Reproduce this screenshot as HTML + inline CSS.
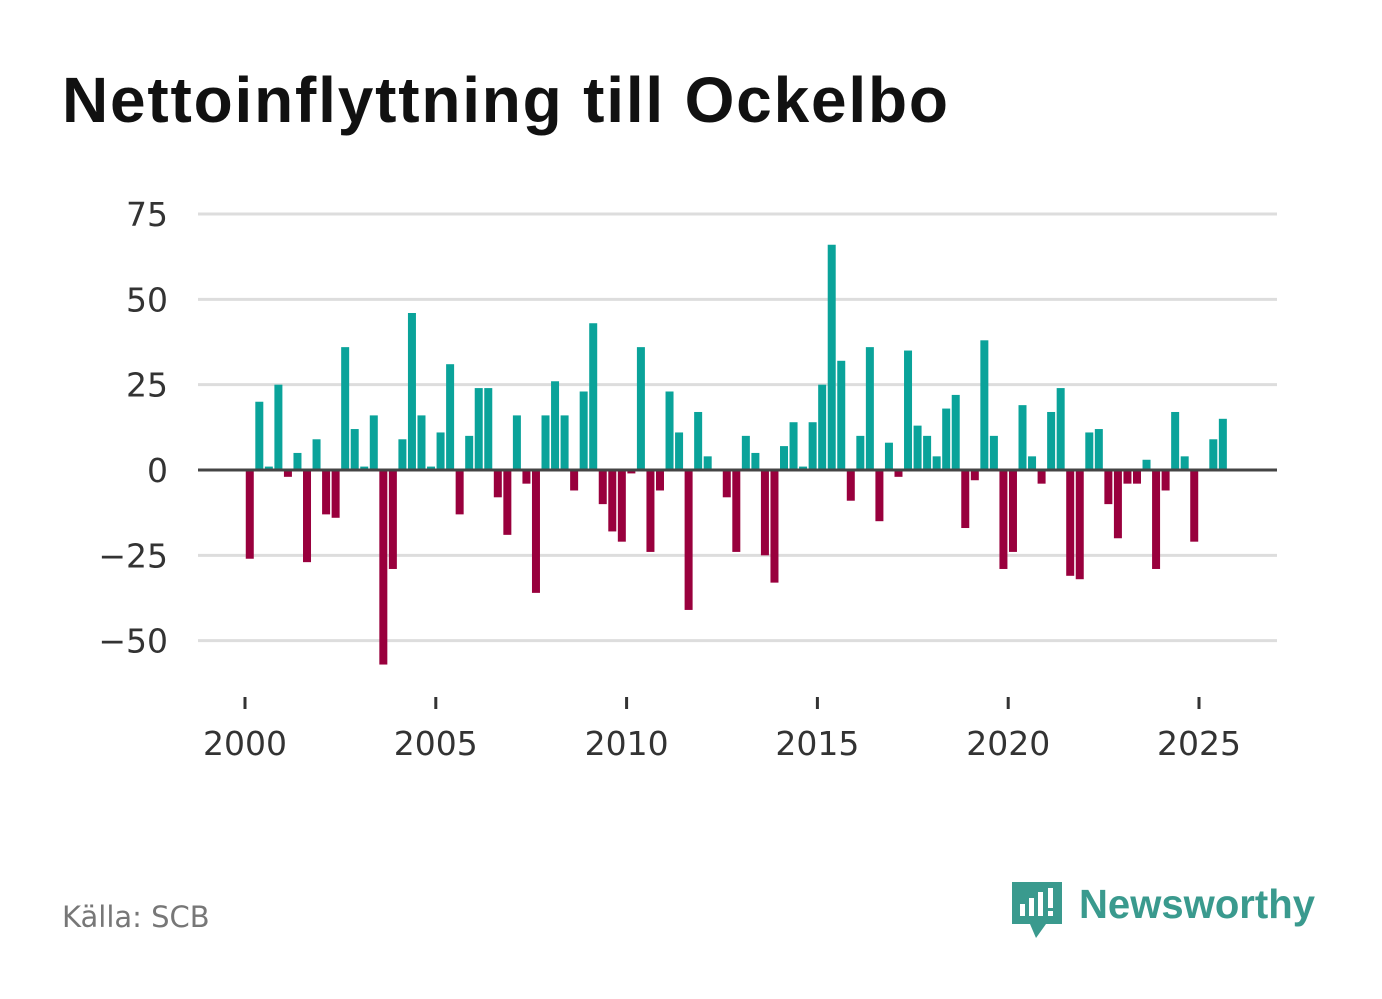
<!DOCTYPE html>
<html><head><meta charset="utf-8"><style>
body{margin:0;background:#fff;width:1382px;height:999px;overflow:hidden;font-family:"DejaVu Sans","Liberation Sans",sans-serif}
#title{position:absolute;left:62px;top:68px;font-size:64px;line-height:1;font-weight:bold;color:#111;letter-spacing:1.8px;font-family:"Liberation Sans",sans-serif;white-space:nowrap}
#src{position:absolute;left:62px;top:900px;font-size:29px;color:#777}
#logo{position:absolute;left:1010px;top:878px}
</style></head><body>
<div id="title">Nettoinflyttning till Ockelbo</div>
<svg id="chart" width="1382" height="999" style="position:absolute;left:0;top:0"></svg>
<div id="src">Källa: SCB</div>
<svg id="logo" width="320" height="65">
<path d="M2 4h50v42h-16l-10 14l-6-14h-18z" fill="#3a9a8e"/>
<rect x="10" y="26" width="5" height="12" fill="#fff"/><rect x="19" y="20" width="5" height="18" fill="#fff"/><rect x="28" y="14" width="5" height="24" fill="#fff"/><rect x="38" y="10" width="5" height="20" fill="#fff"/><rect x="38" y="33" width="5" height="5" fill="#fff"/>
<text x="69" y="40" font-size="41" font-weight="bold" font-family="Liberation Sans, sans-serif" fill="#3a9a8e" textLength="236" lengthAdjust="spacingAndGlyphs">Newsworthy</text>
</svg>
<script>
const years=[2000,2005,2010,2015,2020,2025];
const yTicks=[75,50,25,0,-25,-50];
const yTickLabels=["75","50","25","0","\u221225","\u221250"];
const values=[-26,20,1,25,-2,5,-27,9,-13,-14,36,12,1,16,-57,-29,9,46,16,1,11,31,-13,10,24,24,-8,-19,16,-4,-36,16,26,16,-6,23,43,-10,-18,-21,-1,36,-24,-6,23,11,-41,17,4,0,-8,-24,10,5,-25,-33,7,14,1,14,25,66,32,-9,10,36,-15,8,-2,35,13,10,4,18,22,-17,-3,38,10,-29,-24,19,4,-4,17,24,-31,-32,11,12,-10,-20,-4,-4,3,-29,-6,17,4,-21,0,9,15];
const startYear=2000;
const svg=document.getElementById('chart');const NS='http://www.w3.org/2000/svg';
const x=t=>245+(t-2000)*38.16;
const y=v=>470-v*3.413;
function mk(tag,attrs){const e=document.createElementNS(NS,tag);for(const k in attrs)e.setAttribute(k,attrs[k]);svg.appendChild(e);return e;}
yTicks.forEach((v,i)=>{
 if(v!==0){const g=mk('line',{x1:198,x2:1277,y1:y(v),y2:y(v),stroke:'#ddd','stroke-width':3});
 
 }
 const t=mk('text',{x:168,y:y(v)+12,'text-anchor':'end','font-size':33,fill:'#333'});t.textContent=yTickLabels[i];
 
 
});
values.forEach((v,i)=>{
 const c=x(startYear+(i+0.5)/4);
 const r=mk('rect',{x:c-4,width:8,y:Math.min(y(v),y(0)),height:Math.abs(y(v)-y(0)),fill:v>=0?'#0aa39a':'#99003d'});
 
 
});
const z=mk('line',{x1:198,x2:1277,y1:y(0),y2:y(0),stroke:'#444','stroke-width':3});


years.forEach(yr=>{
 const tk=mk('line',{x1:x(yr),x2:x(yr),y1:697,y2:709,stroke:'#333','stroke-width':3});
 
 
 const t=mk('text',{x:x(yr),y:755,'text-anchor':'middle','font-size':33,fill:'#333'});t.textContent=yr;
 
 
});
</script>
</body></html>
